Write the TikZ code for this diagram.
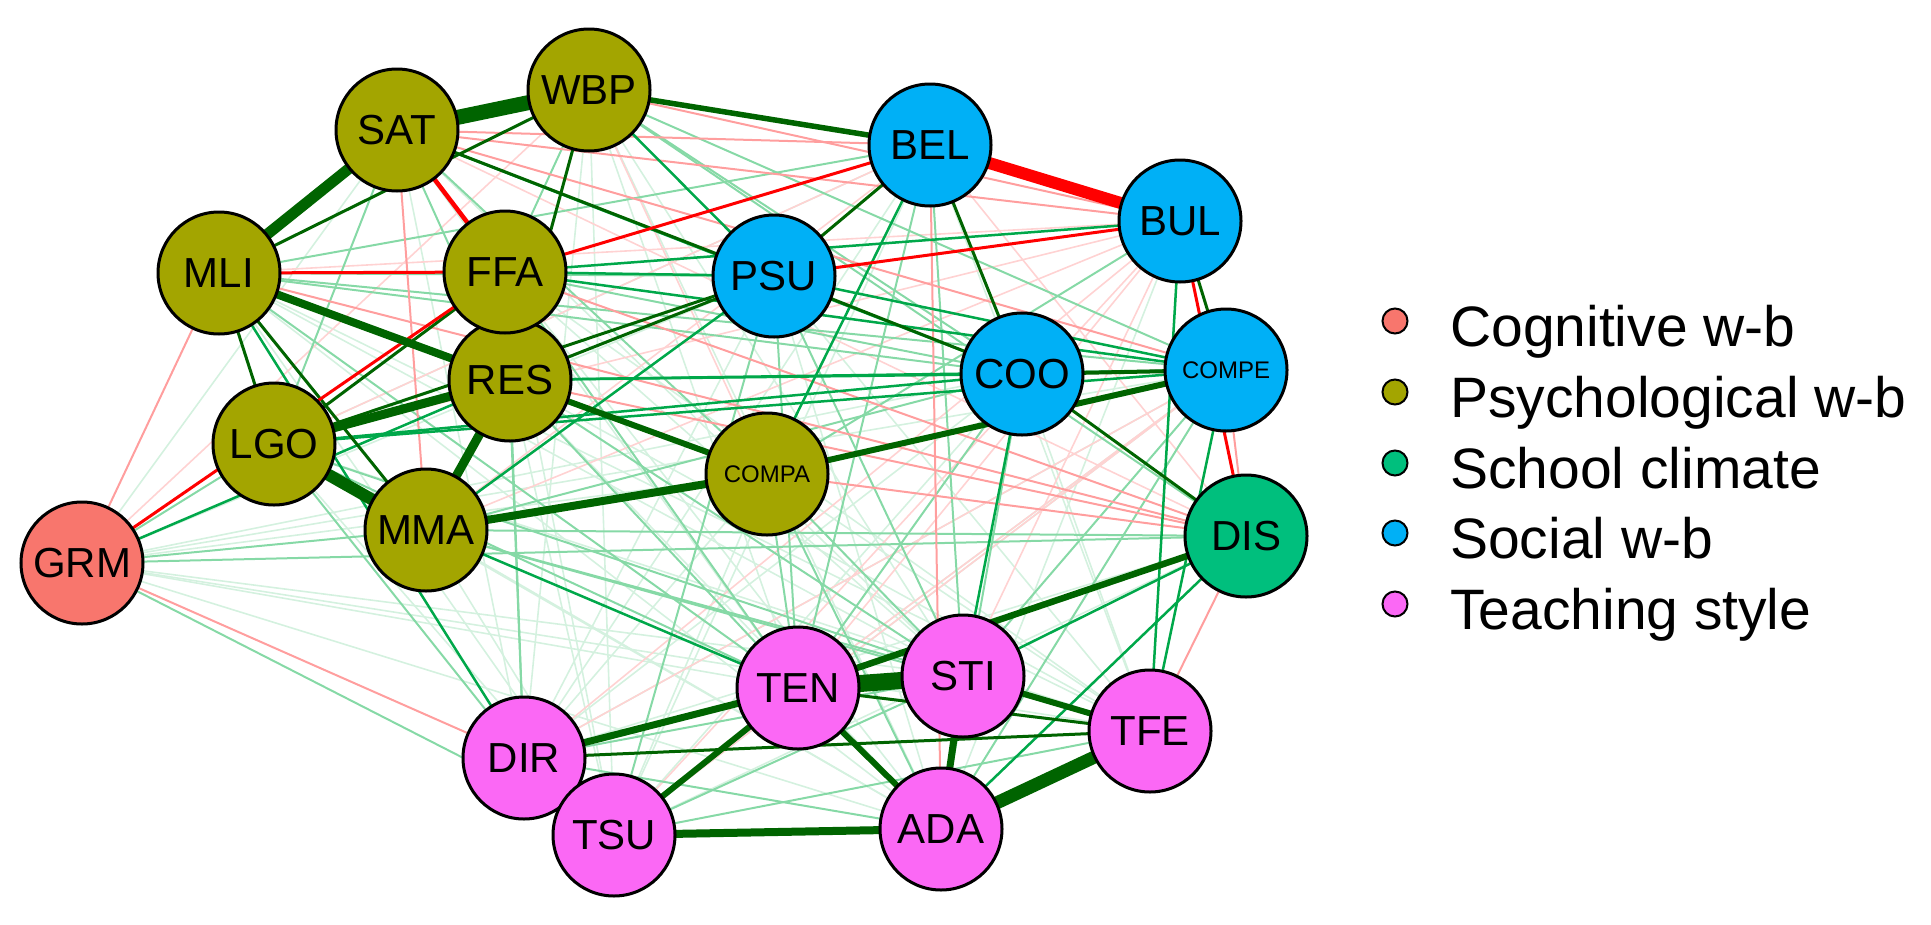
\documentclass[tikz,border=0pt]{standalone}
\usepackage{fontspec}
\setmainfont{Liberation Sans}
\usetikzlibrary{backgrounds}
\definecolor{cog}{HTML}{F8766D}
\definecolor{psy}{HTML}{A3A500}
\definecolor{sch}{HTML}{00BF7D}
\definecolor{soc}{HTML}{00B0F6}
\definecolor{tea}{HTML}{FB68F5}
\definecolor{dg}{HTML}{006400}
\definecolor{gm}{HTML}{00A84A}
\definecolor{gl}{HTML}{86D9A6}
\definecolor{gvl}{HTML}{D4F1DF}
\definecolor{rr}{HTML}{FF0000}
\definecolor{rl}{HTML}{FF9E9E}
\definecolor{rvl}{HTML}{FFD2D2}
\begin{document}
\begin{tikzpicture}[x=1pt,y=-1pt,
  nd/.style={circle, draw=black, line width=3pt, minimum size=122pt, inner sep=0pt, outer sep=0pt, font=\fontsize{42}{42}\selectfont},
  sm/.style={font=\fontsize{24}{24}\selectfont},
  evl/.style={draw=gvl, line width=1.6pt},
  el/.style={draw=gl, line width=2pt},
  em/.style={draw=gm, line width=2.5pt},
  ed/.style={draw=dg, line width=3pt},
  rvle/.style={draw=rvl, line width=1.6pt},
  rle/.style={draw=rl, line width=2pt},
  rme/.style={draw=rr, line width=3pt},
  legdot/.style={circle, draw=black, line width=2pt, minimum size=25pt, inner sep=0pt},
  legtxt/.style={anchor=base west, inner sep=0pt, font=\fontsize{57}{57}\selectfont}
]
\useasboundingbox (0,0) rectangle (1931,924);

% nodes
\node[nd,fill=psy] (WBP) at (589,90) {WBP};
\node[nd,fill=psy] (SAT) at (397,130) {SAT};
\node[nd,fill=soc] (BEL) at (930,145) {BEL};
\node[nd,fill=soc] (BUL) at (1180,221) {BUL};
\node[nd,fill=psy] (MLI) at (219,273) {MLI};
\node[nd,fill=psy] (RES) at (510,380) {RES};
\node[nd,fill=psy] (FFA) at (505,272) {FFA};
\node[nd,fill=soc] (PSU) at (774,276) {PSU};
\node[nd,fill=soc] (COO) at (1022,374) {COO};
\node[nd,fill=soc,sm] (COMPE) at (1226,370) {COMPE};
\node[nd,fill=psy] (LGO) at (274,444) {LGO};
\node[nd,fill=psy,sm] (COMPA) at (767,474) {COMPA};
\node[nd,fill=psy] (MMA) at (426,530) {MMA};
\node[nd,fill=sch] (DIS) at (1246,536) {DIS};
\node[nd,fill=cog] (GRM) at (82,563) {GRM};
\node[nd,fill=tea] (STI) at (963,676) {STI};
\node[nd,fill=tea] (TEN) at (798,688) {TEN};
\node[nd,fill=tea] (TFE) at (1150,731) {TFE};
\node[nd,fill=tea] (DIR) at (524,758) {DIR};
\node[nd,fill=tea] (TSU) at (614,835) {TSU};
\node[nd,fill=tea] (ADA) at (941,829) {ADA};

\begin{pgfonlayer}{background}
% very light edges
\foreach \a/\b in {GRM/ADA,GRM/STI,GRM/TFE,GRM/TEN,GRM/COMPA,GRM/PSU,GRM/COO,GRM/SAT,GRM/COMPE,
  MLI/TSU,MLI/STI,MLI/ADA,MLI/COMPA,SAT/TEN,SAT/DIR,WBP/TEN,WBP/STI,WBP/ADA,WBP/TSU,
  FFA/STI,FFA/ADA,FFA/TSU,FFA/TFE,RES/ADA,RES/TFE,RES/TSU,LGO/ADA,LGO/TSU,LGO/TFE,
  COMPA/TSU,COMPA/DIR,COMPA/TFE,PSU/ADA,PSU/DIR,PSU/TFE,BEL/DIR,BEL/TSU,BEL/TFE,
  COO/DIR,COO/TSU,COO/TFE,COMPE/TEN,COMPE/DIR,COMPE/TSU,DIS/DIR,DIS/TSU,BUL/ADA,
  MMA/ADA,MMA/TSU,SAT/STI,WBP/DIR,BEL/LGO,MLI/TFE}
  \draw[evl] (\a) -- (\b);
\foreach \a/\b in {SAT/DIS,WBP/COMPA,BEL/MMA,MMA/BUL,DIR/COMPE,TSU/COMPE,STI/BUL,BEL/DIS,LGO/BEL,MLI/BUL,GRM/WBP,LGO/BUL,TEN/COMPE,
  BUL/TSU,BUL/DIR,BUL/TEN}
  \draw[rvle] (\a) -- (\b);
% light edges
\foreach \a/\b in {GRM/LGO,GRM/MMA,GRM/DIS,GRM/TSU,SAT/LGO,MLI/BEL,MLI/PSU,MLI/COO,WBP/COO,WBP/COMPE,
  WBP/FFA,SAT/RES,BUL/COMPA,BEL/TEN,COMPA/TEN,PSU/TEN,PSU/TSU,PSU/STI,MMA/DIS,MMA/STI,
  LGO/TEN,LGO/STI,LGO/DIR,RES/TEN,RES/STI,FFA/TEN,COO/ADA,COO/TEN,COMPE/STI,DIR/STI,
  TSU/TFE,COMPA/STI,COMPA/ADA,BEL/STI,MMA/COO,WBP/DIS,FFA/COO,MLI/COMPE,MLI/TEN,RES/DIR,
  MMA/TFE,DIR/ADA,TSU/STI,SAT/COMPA,COMPE/ADA,FFA/DIR}
  \draw[el] (\a) -- (\b);
\foreach \a/\b in {GRM/MLI,GRM/DIR,SAT/BEL,WBP/BUL,SAT/BUL,SAT/MMA,BEL/ADA,
  DIS/TFE,COMPA/DIS,RES/DIS,MLI/DIS,SAT/COMPE,COMPE/DIS,FFA/DIS}
  \draw[rle] (\a) -- (\b);
% medium edges
\foreach \a/\b in {FFA/BUL,PSU/COMPE,FFA/PSU,FFA/COMPE,RES/COO,MMA/PSU,WBP/PSU,COO/STI,BUL/TFE,
  COMPE/TFE,DIS/STI,DIS/ADA,MMA/TEN,GRM/RES,BEL/COMPA,LGO/COO,LGO/COMPE,RES/COMPE,SAT/COO,MLI/DIR}
  \draw[em] (\a) -- (\b);
% dark thin edges
\foreach \a/\b in {MLI/WBP,SAT/PSU,MLI/LGO,MLI/MMA,WBP/RES,PSU/COO,BEL/COO,COO/DIS,DIR/TFE,
  TEN/TFE,BEL/PSU,LGO/PSU,BUL/COMPE,FFA/LGO,RES/PSU}
  \draw[ed] (\a) -- (\b);
\foreach \a/\b in {MLI/FFA,FFA/BEL,PSU/BUL,BUL/DIS,GRM/FFA}
  \draw[rme] (\a) -- (\b);
% thick edges
\foreach \a/\b/\w in {WBP/BEL/5.5,COO/COMPE/4,COMPA/COMPE/6,RES/COMPA/6,TEN/TSU/6,TEN/ADA/6,
  STI/TFE/6,DIS/TEN/6.5,STI/ADA/7,TEN/DIR/7,TSU/ADA/8,MMA/COMPA/8,MLI/RES/8,LGO/RES/9,
  RES/MMA/9,SAT/MLI/11,LGO/MMA/12,ADA/TFE/13,SAT/WBP/15,TEN/STI/17}
  \draw[draw=dg, line width=\w pt] (\a) -- (\b);
\draw[draw=rr, line width=4.5pt] (SAT) -- (FFA);
\draw[draw=rr, line width=12pt] (BEL) -- (BUL);
\end{pgfonlayer}

% legend
\foreach \y/\c/\t in {321/cog/Cognitive w-b,392/psy/Psychological w-b,463/sch/School climate,533/soc/Social w-b,604/tea/Teaching style}{
  \node[legdot,fill=\c] (L\c) at (1395,\y) {};
  \node[legtxt] (T\c) at (1450,\y+25) {\t};
}
\end{tikzpicture}
\end{document}
